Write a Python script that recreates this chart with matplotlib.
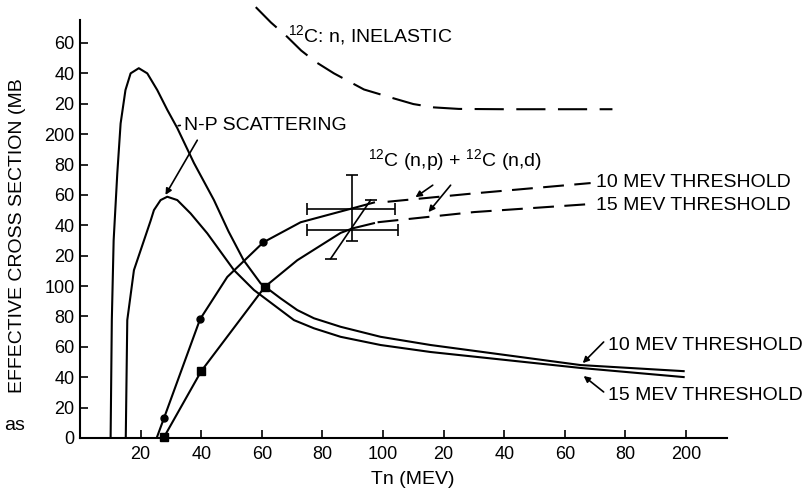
import matplotlib.pyplot as plt

plt.rcParams['font.family'] = ['Liberation Sans', 'DejaVu Sans']
plt.rcParams['mathtext.default'] = 'regular'

# n-p scattering, 10 MeV threshold (upper / taller curve)
np10_x = [10.1, 10.5, 11.1, 12.3, 13.4, 15.0, 16.7, 19.4, 22.2, 25.5, 28.8, 32.1,
          37.6, 44.2, 49.0, 54.0, 59.6, 66.2, 71.7, 77.2, 86.0, 99.2, 115.7, 165.2, 199.2]
np10_y = [0, 77.6, 130, 174, 207, 229, 240, 243.4, 240, 229, 216, 204,
          181, 156.6, 136, 117, 101.8, 91.9, 84.2, 78.8, 73.2, 66.6, 61.2, 48.0, 44.0]

# n-p scattering, 15 MeV threshold
np15_x = [15.1, 15.6, 17.8, 21.1, 23.3, 24.4, 26.6, 28.8, 32.1, 36.5, 42.0,
          50.8, 57.4, 64.0, 70.6, 77.2, 86.0, 99.2, 115.7, 165.2, 199.2]
np15_y = [0, 77.6, 110.5, 130, 143, 150, 156.6, 158.8, 156.6, 147.8, 134.7,
          110.5, 97.4, 87.5, 77.6, 72.2, 66.6, 61.2, 56.6, 46.1, 40.1]

# 12C(n,p) + 12C(n,d), 10 MeV threshold (circles)
cp10_x = [25.3, 27.7, 39.6, 48.6, 60.5, 72.8, 89.6, 97.0]
cp10_y = [0, 13.0, 78.1, 106, 128.8, 142, 151, 155]
cp10_dash_x = [101.5, 130.0, 168.5]
cp10_dash_y = [155.5, 161.0, 167.8]
cp10_pts_x = [27.7, 39.6, 60.5]
cp10_pts_y = [13.0, 78.1, 128.8]

# 12C(n,p) + 12C(n,d), 15 MeV threshold (squares)
cp15_x = [26.5, 27.7, 40.0, 61.0, 71.7, 86.0, 90.0, 97.0]
cp15_y = [0, 0.5, 44.0, 99.5, 117, 135, 138, 141.4]
cp15_dash_x = [98.2, 130.0, 168.5]
cp15_dash_y = [142.0, 148.7, 154.0]
cp15_pts_x = [27.7, 40.0, 61.0]
cp15_pts_y = [0.5, 44.0, 99.5]

# 12C: n, inelastic
inel_x = [58.0, 63.0, 68.4, 73.0, 77.8, 83.8, 93.7, 103.6, 110.0, 116.8, 125.0, 140.0, 175.7]
inel_y = [283.6, 273.5, 264, 255, 247.5, 240, 229.4, 223.5, 219.8, 217.6, 216.6, 216.4, 216.4]

# data points with error bars at 90 MeV
err_x = [89.6, 89.6]
err_y = [150.7, 136.8]
err_xlo = [75.0, 75.0]
err_xhi = [104.0, 104.8]
err_ylo = 129.6
err_yhi = 173.0
slant_x = [82.7, 95.9]
slant_y = [118.0, 156.6]

yticks = list(range(0, 261, 20))
ylabels = ['0', '20', '40', '60', '80', '100', '20', '40', '60', '80', '200', '20', '40', '60']
xticks = list(range(20, 201, 20))
xlabels = ['20', '40', '60', '80', '100', '20', '40', '60', '80', '200']

fig = plt.figure(figsize=(8.12, 4.92), dpi=100)
ax = fig.add_axes([80/812, 54/492, 647/812, 433/492])
ax.set_xlim(0, 213.5)
ax.set_ylim(0, 285)

lw = 1.5
ax.plot(np10_x, np10_y, 'k-', lw=lw)
ax.plot(np15_x, np15_y, 'k-', lw=lw)
ax.plot(cp10_x, cp10_y, 'k-', lw=lw)
ax.plot(cp15_x, cp15_y, 'k-', lw=lw)
ax.plot(cp10_dash_x, cp10_dash_y, 'k-', lw=lw, dashes=(10, 5))
ax.plot(cp15_dash_x, cp15_dash_y, 'k-', lw=lw, dashes=(10, 5))
ax.plot(cp10_pts_x, cp10_pts_y, 'ko', ms=5, clip_on=False)
ax.plot(cp15_pts_x, cp15_pts_y, 'ks', ms=6, clip_on=False)
ax.plot(inel_x, inel_y, 'k-', lw=lw, dashes=(14, 6), clip_on=False)

ax.errorbar(err_x[0], err_y[0],
            xerr=[[err_x[0]-err_xlo[0]], [err_xhi[0]-err_x[0]]],
            yerr=[[err_y[0]-err_ylo], [err_yhi-err_y[0]]],
            fmt='none', ecolor='k', elinewidth=1.2, capsize=4, capthick=1.2)
ax.errorbar(err_x[1], err_y[1],
            xerr=[[err_x[1]-err_xlo[1]], [err_xhi[1]-err_x[1]]],
            fmt='none', ecolor='k', elinewidth=1.2, capsize=4, capthick=1.2)
ax.plot(slant_x, slant_y, 'k-', lw=1.2, marker='_', ms=8, mew=1.2)

arrow = dict(arrowstyle='-|>', color='k', lw=1.2, mutation_scale=9,
             shrinkA=0, shrinkB=0)
fs = 14

ax.text(34.2, 205.9, 'N-P SCATTERING', fontsize=fs, va='center')
ax.annotate('', xy=(31.5, 205.3), xytext=(34.0, 206.0),
            arrowprops=dict(arrowstyle='-', color='k', lw=1.2))
ax.annotate('', xy=(28.2, 160.0), xytext=(38.7, 196.0), arrowprops=arrow)

ax.text(68.8, 265, '$^{12}$C: n, INELASTIC', fontsize=fs, va='center')

ax.text(94.9, 183, '$^{12}$C (n,p) + $^{12}$C (n,d)', fontsize=fs, va='center')
ax.annotate('', xy=(110.7, 158.5), xytext=(116.4, 166.4), arrowprops=arrow)
ax.annotate('', xy=(115.0, 148.7), xytext=(122.3, 166.4), arrowprops=arrow)
ax.text(170.2, 168.4, '10 MEV THRESHOLD', fontsize=fs, va='center')
ax.text(170.2, 153.3, '15 MEV THRESHOLD', fontsize=fs, va='center')

ax.text(174.1, 61.2, '10 MEV THRESHOLD', fontsize=fs, va='center', clip_on=False)
ax.text(174.1, 28.3, '15 MEV THRESHOLD', fontsize=fs, va='center', clip_on=False)
ax.annotate('', xy=(165.9, 49.3), xytext=(172.8, 63.2), arrowprops=arrow)
ax.annotate('', xy=(166.2, 40.8), xytext=(172.8, 30.3), arrowprops=arrow)

for side in ['top', 'right']:
    ax.spines[side].set_visible(False)
ax.spines['left'].set_bounds(0, 275)
ax.spines['left'].set_linewidth(1.5)
ax.spines['bottom'].set_linewidth(1.5)

ax.set_yticks(yticks)
ax.set_yticklabels(ylabels)
ax.set_xticks(xticks)
ax.set_xticklabels(xlabels)
ax.tick_params(direction='in', length=6, width=1.2, labelsize=13)
ax.tick_params(axis='y', pad=4)
ax.tick_params(axis='x', pad=6)

fig.text(18/812, 1-236/492, 'EFFECTIVE CROSS SECTION (MB', rotation=90,
         fontsize=fs, ha='center', va='center')
fig.text(413/812, 1-480/492, 'Tn (MEV)', fontsize=fs, ha='center', va='center')
fig.text(4/812, 1-425/492, 'as', fontsize=fs, ha='left', va='center')

plt.savefig('out.png', dpi=100)
